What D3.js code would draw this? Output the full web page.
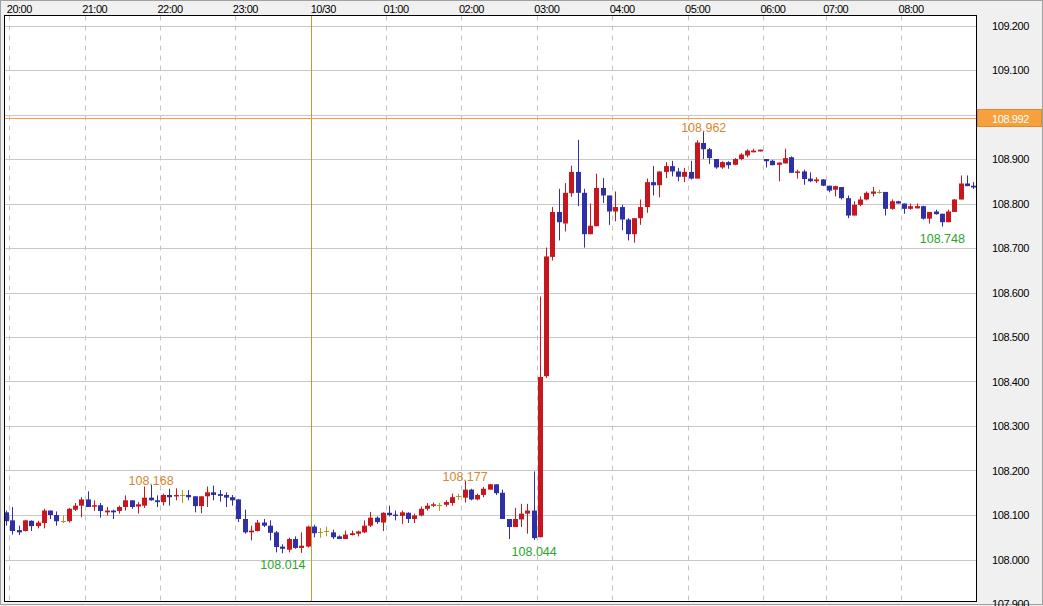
<!DOCTYPE html>
<html><head><meta charset="utf-8">
<script src="https://cdn.jsdelivr.net/npm/d3@7"></script>
<style>html,body{margin:0;padding:0;background:#f0f0f0;}svg{display:block;font-family:"Liberation Sans",Arial,sans-serif;}</style>
</head><body>
<svg id="c" width="1043" height="606"></svg>
<script>
// ---- data ----
const opens = [108.106,108.088,108.066,108.064,108.087,108.075,108.082,108.110,108.100,108.086,108.086,108.112,108.121,108.135,108.119,108.122,108.106,108.110,108.109,108.118,108.133,108.119,108.121,108.139,108.133,108.129,108.145,108.142,108.145,108.145,108.142,108.120,108.142,108.151,108.147,108.145,108.140,108.135,108.091,108.061,108.064,108.083,108.076,108.061,108.029,108.022,108.046,108.026,108.029,108.074,108.061,108.063,108.061,108.052,108.046,108.055,108.058,108.061,108.076,108.094,108.083,108.105,108.101,108.098,108.105,108.091,108.099,108.114,108.121,108.123,108.123,108.127,108.142,108.139,108.157,108.135,108.145,108.157,108.169,108.150,108.091,108.073,108.090,108.103,108.110,108.050,108.412,108.680,108.781,108.755,108.823,108.871,108.824,108.731,108.749,108.835,108.818,108.782,108.792,108.764,108.731,108.767,108.792,108.848,108.841,108.871,108.884,108.872,108.860,108.871,108.856,108.936,108.922,108.900,108.881,108.893,108.887,108.900,108.908,108.915,108.917,108.900,108.896,108.887,108.890,108.904,108.869,108.872,108.856,108.850,108.854,108.840,108.831,108.837,108.812,108.773,108.797,108.809,108.822,108.826,108.826,108.788,108.805,108.800,108.788,108.789,108.794,108.766,108.782,108.777,108.758,108.781,108.809,108.845,108.840];
const highs = [108.110,108.118,108.076,108.089,108.088,108.087,108.114,108.110,108.108,108.099,108.116,108.127,108.140,108.153,108.133,108.127,108.118,108.112,108.121,108.144,108.133,108.129,108.164,108.168,108.144,108.148,108.159,108.160,108.156,108.156,108.142,108.142,108.164,108.166,108.156,108.151,108.145,108.136,108.112,108.076,108.089,108.091,108.088,108.064,108.034,108.049,108.052,108.061,108.076,108.078,108.071,108.074,108.067,108.054,108.065,108.065,108.065,108.088,108.107,108.097,108.106,108.121,108.110,108.110,108.106,108.103,108.119,108.127,108.128,108.127,108.133,108.148,108.148,108.177,108.159,108.148,108.163,108.170,108.169,108.157,108.091,108.116,108.125,108.125,108.198,108.591,108.701,108.792,108.833,108.846,108.885,108.943,108.833,108.800,108.867,108.857,108.818,108.827,108.797,108.767,108.767,108.809,108.856,108.884,108.872,108.893,108.896,108.880,108.880,108.896,108.942,108.962,108.925,108.900,108.895,108.895,108.902,108.913,108.922,108.923,108.921,108.900,108.898,108.892,108.923,108.906,108.876,108.876,108.870,108.859,108.855,108.840,108.840,108.837,108.818,108.805,108.816,108.827,108.837,108.831,108.826,108.809,108.806,108.800,108.800,108.800,108.795,108.781,108.786,108.777,108.786,108.810,108.863,108.863,108.848];
const lows = [108.076,108.056,108.055,108.063,108.064,108.070,108.070,108.091,108.076,108.082,108.083,108.109,108.095,108.118,108.109,108.094,108.099,108.091,108.103,108.110,108.114,108.103,108.116,108.132,108.118,108.121,108.121,108.133,108.127,108.133,108.106,108.104,108.118,108.133,108.130,108.118,108.121,108.084,108.058,108.043,108.063,108.073,108.043,108.016,108.014,108.016,108.024,108.015,108.027,108.050,108.049,108.052,108.046,108.046,108.046,108.054,108.052,108.059,108.073,108.080,108.064,108.097,108.088,108.080,108.082,108.082,108.097,108.110,108.118,108.109,108.119,108.121,108.134,108.128,108.133,108.133,108.140,108.157,108.145,108.091,108.046,108.073,108.073,108.058,108.044,108.050,108.408,108.672,108.717,108.737,108.815,108.794,108.701,108.731,108.749,108.801,108.752,108.760,108.740,108.717,108.712,108.752,108.779,108.818,108.814,108.857,108.861,108.850,108.848,108.854,108.856,108.900,108.889,108.878,108.878,108.878,108.886,108.897,108.904,108.915,108.917,108.881,108.886,108.850,108.890,108.869,108.856,108.842,108.848,108.846,108.839,108.825,108.816,108.809,108.767,108.773,108.794,108.807,108.816,108.822,108.773,108.786,108.800,108.777,108.786,108.789,108.764,108.755,108.775,108.748,108.758,108.781,108.809,108.839,108.833];
const closes = [108.086,108.064,108.061,108.088,108.075,108.083,108.110,108.100,108.086,108.086,108.114,108.121,108.135,108.118,108.122,108.109,108.110,108.106,108.118,108.133,108.118,108.124,108.139,108.133,108.129,108.145,108.140,108.145,108.145,108.140,108.120,108.142,108.151,108.145,108.143,108.139,108.133,108.091,108.061,108.065,108.083,108.076,108.060,108.028,108.024,108.046,108.026,108.031,108.074,108.059,108.061,108.063,108.050,108.046,108.056,108.059,108.063,108.076,108.094,108.084,108.105,108.100,108.098,108.106,108.091,108.099,108.114,108.121,108.124,108.123,108.129,108.140,108.142,108.157,108.135,108.145,108.159,108.169,108.149,108.091,108.073,108.091,108.103,108.110,108.048,108.410,108.681,108.781,108.758,108.824,108.871,108.824,108.731,108.750,108.835,108.818,108.782,108.792,108.764,108.731,108.767,108.792,108.848,108.841,108.872,108.884,108.872,108.860,108.871,108.856,108.937,108.922,108.902,108.881,108.893,108.886,108.900,108.910,108.919,108.919,108.921,108.895,108.886,108.892,108.902,108.869,108.872,108.855,108.850,108.854,108.840,108.829,108.839,108.812,108.773,108.797,108.809,108.824,108.827,108.826,108.788,108.805,108.800,108.788,108.794,108.794,108.766,108.781,108.776,108.758,108.782,108.809,108.845,108.839,108.836];
const tickLabels = ["20:00","21:00","22:00","23:00","10/30","01:00","02:00","03:00","04:00","05:00","06:00","07:00","08:00"];
const tickIndex  = [1,13,25,37,49,61,73,85,97,109,121,131,143];
const priceTicks = [109.2,109.1,109.0,108.9,108.8,108.7,108.6,108.5,108.4,108.3,108.2,108.1,108.0,107.9];
const currentPrice = 108.992;
const dateLineIndex = 49;
const extremeIndex = [23,44,73,84,111,149];
const extremeType  = ["high","low","high","low","high","low"];

// ---- layout ----
const W = 1043, H = 606;
const plot = {l:4.5, t:15.5, r:976.5, b:601.5};
const svg = d3.select("#c");
const x = d3.scaleBand().domain(d3.range(opens.length)).range([3.0, 976.4]).padding(0);
const y = d3.scaleLinear().domain([108.0, 109.2]).range([559.5, 25.5]);
const cx = i => x(i) + x.bandwidth()/2;

svg.append("rect").attr("x",0.5).attr("y",0.5).attr("width",W-1).attr("height",H-2)
  .attr("fill","#f0f0f0").attr("stroke","#a0a0a0");
svg.append("clipPath").attr("id","pc").append("rect")
  .attr("x",plot.l).attr("y",plot.t).attr("width",plot.r-plot.l).attr("height",plot.b-plot.t);
svg.append("rect").attr("x",plot.l).attr("y",plot.t).attr("width",plot.r-plot.l).attr("height",plot.b-plot.t)
  .attr("fill","#ffffff");

const g = svg.append("g").attr("clip-path","url(#pc)");
// horizontal grid
g.selectAll("line.hg").data(priceTicks).join("line").attr("class","hg")
  .attr("x1",plot.l).attr("x2",plot.r)
  .attr("y1",d=>Math.round(y(d))+0.5).attr("y2",d=>Math.round(y(d))+0.5)
  .attr("stroke","#c8c8c8").attr("stroke-width",1);
// vertical grid
g.selectAll("line.vg").data(tickIndex).join("line").attr("class","vg")
  .attr("x1",d=>Math.round(x(d))+0.5).attr("x2",d=>Math.round(x(d))+0.5)
  .attr("y1",plot.t).attr("y2",plot.b)
  .attr("stroke","#c4c4c4").attr("stroke-dasharray","5,5")
  .attr("display",d=>d===dateLineIndex?"none":null);
// date line
g.append("line").attr("x1",Math.round(x(dateLineIndex))+0.5).attr("x2",Math.round(x(dateLineIndex))+0.5)
  .attr("y1",plot.t).attr("y2",plot.b).attr("stroke","#b4a42c").attr("stroke-width",1);
// current price line
g.append("line").attr("x1",plot.l).attr("x2",plot.r)
  .attr("y1",Math.round(y(currentPrice))+0.5).attr("y2",Math.round(y(currentPrice))+0.5)
  .attr("stroke","#f3a048").attr("stroke-width",1);

// candles
const colorOf = i => closes[i] > opens[i] ? "#c8161e" : (closes[i] < opens[i] ? "#2f2fa6" : "#a89a1c");
const idx = d3.range(opens.length);
g.selectAll("line.wick").data(idx).join("line").attr("class","wick")
  .attr("x1",i=>Math.round(cx(i))+0.5).attr("x2",i=>Math.round(cx(i))+0.5)
  .attr("y1",i=>y(highs[i])).attr("y2",i=>y(lows[i]))
  .attr("stroke",colorOf).attr("stroke-width",1);
g.selectAll("rect.body").data(idx.filter(i=>closes[i]!==opens[i])).join("rect").attr("class","body")
  .attr("x",i=>Math.round(cx(i))-2).attr("width",5)
  .attr("y",i=>y(Math.max(opens[i],closes[i])))
  .attr("height",i=>Math.max(1.5, Math.abs(y(opens[i])-y(closes[i]))))
  .attr("fill",colorOf);
g.selectAll("line.doji").data(idx.filter(i=>closes[i]===opens[i])).join("line").attr("class","doji")
  .attr("x1",i=>Math.round(cx(i))-2).attr("x2",i=>Math.round(cx(i))+3)
  .attr("y1",i=>Math.round(y(opens[i]))+0.5).attr("y2",i=>Math.round(y(opens[i]))+0.5)
  .attr("stroke",colorOf).attr("stroke-width",1);

// extreme labels
const fmt = d3.format(".3f");
extremeIndex.forEach((i,k)=>{
  const hi = extremeType[k]==="high";
  const v = hi ? highs[i] : lows[i];
  svg.append("text").attr("x",cx(i)+0.5).attr("y", hi ? y(v)+0.5 : y(v)+16)
    .attr("text-anchor","middle").attr("font-size",12.5)
    .attr("fill", hi ? "#d8862e" : "#2aa52a").text(fmt(v));
});

// plot border
svg.append("rect").attr("x",plot.l).attr("y",plot.t).attr("width",plot.r-plot.l).attr("height",plot.b-plot.t)
  .attr("fill","none").attr("stroke","#000").attr("stroke-width",1);

// time labels
svg.selectAll("text.tl").data(tickIndex).join("text").attr("class","tl")
  .attr("x",(d,k)=>x(d) - (tickLabels[k].includes("/")?0:2.5)).attr("y",13)
  .attr("font-size",11).attr("letter-spacing","-0.5").attr("fill","#000")
  .text((d,k)=>tickLabels[k]);

// price labels (the one under the current-price box is covered, as in the original)
const cy = Math.round(y(currentPrice));
svg.selectAll("text.pl").data(priceTicks).join("text").attr("class","pl")
  .attr("x",992).attr("y",d=>y(d)+4)
  .attr("font-size",11).attr("letter-spacing","-0.4").attr("fill","#000")
  .attr("display",d=>Math.abs(y(d)-cy)<12?"none":null)
  .text(d=>fmt(d));

// current price box
svg.append("rect").attr("x",977.5).attr("y",cy-8.5).attr("width",64).attr("height",17)
  .attr("fill","#f7a13e").attr("stroke","#e58a20");
svg.append("text").attr("x",992).attr("y",cy+4.5).attr("font-size",11).attr("letter-spacing","-0.4")
  .attr("fill","#ffffff").text(fmt(currentPrice));
</script>
</body></html>
